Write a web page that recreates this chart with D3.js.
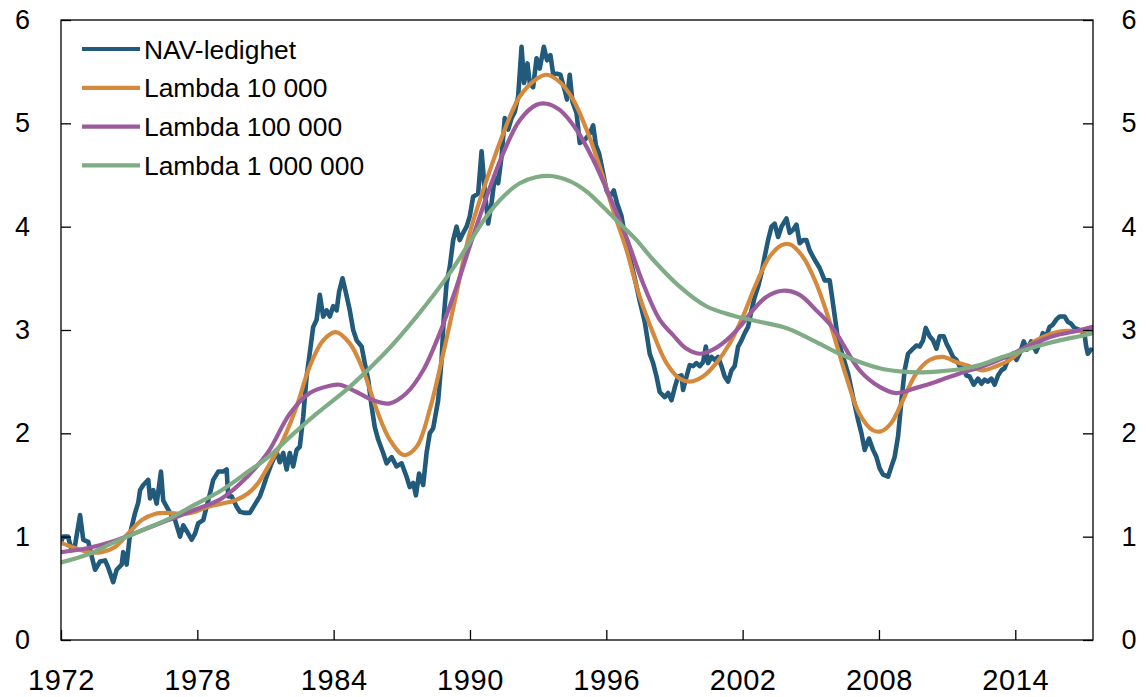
<!DOCTYPE html>
<html><head><meta charset="utf-8">
<script src="https://cdn.jsdelivr.net/npm/d3@7"></script>
<style>
html,body{margin:0;padding:0;background:#fff;}
svg{display:block;font-family:"Liberation Sans",Arial,Helvetica,sans-serif;}
</style></head>
<body>
<svg id="chart" width="1146" height="697"></svg>
<script>
// ---- data ----
const xTickYears = [1972, 1978, 1984, 1990, 1996, 2002, 2008, 2014];
const yTicks = [0, 1, 2, 3, 4, 5, 6];
const seriesNames = ["NAV-ledighet", "Lambda 10 000", "Lambda 100 000", "Lambda 1 000 000"];
const seriesColors = ["#215a7b", "#d4893c", "#9b5b9c", "#7fac84"];

const navYears = [1972.00,1972.10,1972.31,1972.47,1972.62,1972.84,1972.98,1973.20,1973.35,1973.50,1973.72,1973.94,1974.08,1974.30,1974.45,1974.67,1974.74,1974.89,1975.04,1975.26,1975.40,1975.48,1975.62,1975.84,1975.92,1976.06,1976.21,1976.40,1976.50,1976.80,1977.02,1977.24,1977.38,1977.60,1977.75,1977.90,1978.04,1978.26,1978.41,1978.56,1978.70,1978.92,1979.14,1979.29,1979.36,1979.51,1979.73,1979.88,1980.09,1980.31,1980.53,1980.75,1980.90,1981.05,1981.27,1981.49,1981.63,1981.78,1981.93,1982.07,1982.22,1982.37,1982.51,1982.66,1982.81,1982.95,1983.10,1983.25,1983.39,1983.54,1983.69,1983.83,1983.98,1984.13,1984.24,1984.39,1984.54,1984.71,1984.86,1985.01,1985.23,1985.37,1985.52,1985.67,1985.81,1985.96,1986.18,1986.33,1986.55,1986.77,1986.99,1987.21,1987.35,1987.50,1987.62,1987.76,1987.94,1988.09,1988.23,1988.38,1988.60,1988.75,1988.85,1988.97,1989.11,1989.26,1989.41,1989.55,1989.70,1989.85,1989.99,1990.14,1990.36,1990.51,1990.65,1990.80,1990.95,1991.09,1991.24,1991.39,1991.53,1991.68,1991.83,1991.97,1992.12,1992.27,1992.38,1992.53,1992.63,1992.78,1992.93,1993.07,1993.25,1993.39,1993.54,1993.66,1993.83,1993.98,1994.17,1994.27,1994.39,1994.51,1994.69,1994.83,1995.05,1995.27,1995.42,1995.54,1995.68,1995.83,1996.01,1996.15,1996.33,1996.47,1996.67,1996.81,1997.03,1997.25,1997.47,1997.69,1997.84,1997.91,1998.06,1998.21,1998.35,1998.57,1998.72,1998.87,1999.02,1999.16,1999.31,1999.38,1999.53,1999.67,1999.82,1999.97,2000.11,2000.26,2000.38,2000.48,2000.63,2000.77,2000.92,2001.07,2001.21,2001.36,2001.51,2001.65,2001.80,2001.95,2002.09,2002.24,2002.39,2002.53,2002.68,2002.83,2002.97,2003.12,2003.27,2003.41,2003.56,2003.71,2003.93,2004.07,2004.22,2004.37,2004.51,2004.66,2004.81,2004.95,2005.17,2005.39,2005.61,2005.83,2005.98,2006.20,2006.42,2006.64,2006.86,2007.08,2007.23,2007.37,2007.56,2007.74,2007.89,2008.03,2008.18,2008.40,2008.55,2008.69,2008.84,2008.99,2009.13,2009.28,2009.50,2009.65,2009.79,2009.94,2010.06,2010.23,2010.38,2010.53,2010.67,2010.85,2010.97,2011.11,2011.26,2011.41,2011.55,2011.70,2011.85,2011.99,2012.17,2012.36,2012.51,2012.65,2012.80,2012.95,2013.09,2013.24,2013.39,2013.53,2013.68,2013.90,2014.05,2014.19,2014.37,2014.51,2014.70,2014.92,2015.07,2015.21,2015.36,2015.51,2015.65,2015.80,2015.95,2016.17,2016.31,2016.46,2016.60,2016.82,2017.04,2017.12,2017.19,2017.33];
const navValues = [0.95,1.00,1.00,0.87,0.92,1.21,0.97,0.95,0.81,0.68,0.76,0.77,0.70,0.56,0.68,0.73,0.85,0.73,1.03,1.23,1.33,1.45,1.50,1.55,1.37,1.45,1.32,1.63,1.35,1.23,1.16,1.00,1.11,1.03,0.97,1.03,1.13,1.16,1.29,1.42,1.55,1.63,1.63,1.65,1.39,1.39,1.29,1.24,1.23,1.23,1.31,1.39,1.48,1.58,1.71,1.82,1.72,1.81,1.65,1.81,1.68,1.84,1.87,2.16,2.55,2.78,3.03,3.10,3.34,3.13,3.19,3.13,3.23,3.19,3.37,3.50,3.36,3.19,3.00,2.90,2.84,2.68,2.52,2.26,2.06,1.94,1.81,1.71,1.77,1.68,1.71,1.58,1.48,1.52,1.40,1.61,1.50,1.81,2.00,2.05,2.32,2.71,3.13,3.45,3.61,3.87,4.00,3.87,3.94,4.00,4.10,4.29,4.32,4.73,4.35,4.03,4.23,4.48,4.42,4.68,5.05,4.94,5.05,5.11,5.26,5.74,5.39,5.58,5.39,5.35,5.63,5.53,5.74,5.61,5.66,5.48,5.48,5.47,5.32,5.23,5.47,5.21,5.10,4.81,4.84,4.90,4.98,4.79,4.71,4.55,4.35,4.29,4.35,4.23,4.10,3.92,3.71,3.50,3.28,3.08,2.87,2.77,2.68,2.55,2.40,2.35,2.39,2.32,2.45,2.55,2.56,2.42,2.55,2.66,2.65,2.68,2.65,2.69,2.84,2.68,2.74,2.71,2.74,2.65,2.55,2.50,2.61,2.65,2.84,2.90,2.97,3.03,3.19,3.32,3.42,3.55,3.71,3.87,4.00,4.03,3.90,4.00,4.08,3.94,3.97,4.02,3.84,3.87,3.87,3.77,3.68,3.60,3.48,3.48,3.25,2.90,2.74,2.58,2.35,2.13,2.00,1.84,1.95,1.84,1.77,1.66,1.60,1.58,1.68,1.77,1.97,2.32,2.61,2.77,2.82,2.85,2.84,2.90,3.02,2.94,2.90,2.82,2.94,2.94,2.87,2.81,2.74,2.71,2.65,2.63,2.56,2.55,2.47,2.53,2.48,2.52,2.50,2.53,2.47,2.56,2.61,2.63,2.71,2.77,2.71,2.77,2.89,2.81,2.89,2.79,2.87,2.97,2.94,3.03,3.05,3.10,3.13,3.13,3.08,3.06,3.02,3.00,2.97,2.84,2.77,2.81];

const l1Years = [1972.00,1972.62,1973.20,1973.79,1974.38,1974.96,1975.55,1976.13,1976.72,1977.31,1977.89,1978.48,1979.07,1979.65,1980.24,1980.68,1981.12,1981.78,1982.37,1982.95,1983.54,1984.10,1984.71,1985.30,1985.89,1986.47,1987.09,1987.65,1988.23,1988.82,1989.41,1989.99,1990.73,1991.46,1992.19,1992.93,1993.37,1993.95,1994.54,1995.13,1995.71,1996.30,1996.88,1997.47,1998.06,1998.65,1999.23,1999.67,2000.25,2000.84,2001.43,2002.01,2002.60,2003.19,2003.70,2004.07,2004.65,2005.24,2005.83,2006.56,2007.14,2007.73,2008.10,2008.54,2009.05,2009.64,2010.23,2010.81,2011.40,2011.99,2012.57,2013.16,2013.75,2014.33,2014.92,2015.51,2016.09,2016.68,2017.42];
const l1Values = [0.94,0.89,0.85,0.85,0.90,1.03,1.16,1.22,1.23,1.22,1.24,1.29,1.32,1.35,1.42,1.52,1.68,1.94,2.26,2.65,2.90,2.98,2.87,2.61,2.23,1.94,1.79,1.87,2.23,2.77,3.36,3.94,4.45,4.90,5.26,5.43,5.47,5.40,5.23,4.94,4.58,4.16,3.78,3.32,2.97,2.68,2.53,2.50,2.55,2.68,2.87,3.13,3.45,3.71,3.82,3.83,3.71,3.45,3.08,2.55,2.19,2.03,2.02,2.10,2.32,2.58,2.71,2.74,2.69,2.65,2.61,2.65,2.71,2.81,2.90,2.96,2.99,2.99,3.00];

const l2Years = [1972.00,1973.20,1974.38,1975.55,1976.72,1977.89,1979.07,1980.24,1981.12,1982.07,1982.95,1983.83,1984.27,1985.01,1985.74,1986.47,1987.21,1987.94,1988.67,1989.41,1989.99,1990.73,1991.46,1992.19,1992.93,1993.37,1993.95,1994.68,1995.42,1996.15,1996.88,1997.62,1998.35,1998.94,1999.52,2000.11,2000.69,2001.28,2001.87,2002.45,2003.04,2003.77,2004.51,2005.24,2005.97,2007.15,2008.03,2008.76,2009.64,2010.52,2011.55,2012.57,2013.60,2014.63,2015.65,2016.68,2017.42];
const l2Values = [0.85,0.89,0.96,1.06,1.16,1.26,1.37,1.59,1.82,2.19,2.39,2.46,2.47,2.40,2.32,2.29,2.39,2.61,2.97,3.42,3.81,4.29,4.71,5.03,5.18,5.19,5.13,4.94,4.65,4.29,3.90,3.45,3.10,2.95,2.82,2.77,2.81,2.90,3.03,3.19,3.32,3.38,3.34,3.19,3.02,2.61,2.45,2.39,2.44,2.50,2.58,2.65,2.74,2.85,2.94,2.99,3.03];

const l3Years = [1972.00,1973.20,1974.38,1975.55,1976.72,1977.89,1979.07,1980.24,1981.12,1981.85,1983.25,1984.71,1986.18,1987.65,1989.11,1989.99,1990.73,1991.46,1992.19,1992.93,1993.59,1994.39,1995.13,1995.86,1996.59,1997.33,1998.06,1999.23,2000.40,2001.57,2002.75,2003.92,2005.09,2006.27,2007.15,2008.03,2008.91,2009.79,2010.67,2011.55,2012.43,2013.31,2014.19,2015.07,2015.95,2016.83,2017.42];
const l3Values = [0.75,0.83,0.95,1.06,1.17,1.31,1.45,1.63,1.77,1.92,2.19,2.45,2.76,3.13,3.55,3.85,4.10,4.29,4.42,4.48,4.49,4.44,4.34,4.19,4.03,3.87,3.68,3.42,3.23,3.14,3.08,3.02,2.90,2.77,2.69,2.63,2.60,2.59,2.60,2.62,2.66,2.73,2.79,2.85,2.90,2.94,2.97];

// ---- layout ----
const plot = {left: 61, right: 1093, top: 20, bottom: 640};
const svg = d3.select("#chart");
const FONT = "Liberation Sans, Arial, sans-serif";

const x = d3.scaleLinear().domain([1972, 2017.42]).range([plot.left, plot.right]);
const y = d3.scaleLinear().domain([0, 6]).range([plot.bottom, plot.top]);

const toPts = (xs, vs) => xs.map((d, i) => [d, vs[i]]);
const smooth = d3.curveCatmullRom.alpha(0.5);
const series = [
  {name: seriesNames[0], color: seriesColors[0], pts: toPts(navYears, navValues), curve: d3.curveLinear, w: 4.6},
  {name: seriesNames[1], color: seriesColors[1], pts: toPts(l1Years, l1Values), curve: smooth, w: 4.2},
  {name: seriesNames[2], color: seriesColors[2], pts: toPts(l2Years, l2Values), curve: smooth, w: 4.2},
  {name: seriesNames[3], color: seriesColors[3], pts: toPts(l3Years, l3Values), curve: smooth, w: 4.2}
];

svg.append("clipPath").attr("id", "clip").append("rect")
  .attr("x", plot.left).attr("y", plot.top)
  .attr("width", plot.right - plot.left).attr("height", plot.bottom - plot.top);

const g = svg.append("g").attr("clip-path", "url(#clip)");
series.forEach(s => {
  g.append("path")
    .datum(s.pts)
    .attr("fill", "none")
    .attr("stroke", s.color)
    .attr("stroke-width", s.w)
    .attr("stroke-linejoin", "round")
    .attr("stroke-linecap", "round")
    .attr("d", d3.line().x(d => x(d[0])).y(d => y(d[1])).curve(s.curve));
});

// ---- axes ----
const tickLen = 10;
const fmt = d => String(d);
const axisStyle = sel => {
  sel.select(".domain").remove();
  sel.selectAll(".tick line").attr("stroke", "#000").attr("stroke-width", 1.3);
  sel.selectAll("text").attr("fill", "#000").attr("font-family", FONT);
};

const xAxis = d3.axisBottom(x).tickValues(xTickYears).tickFormat(fmt).tickSizeInner(-tickLen).tickSizeOuter(0).tickPadding(29.5);
svg.append("g").attr("transform", `translate(0,${plot.bottom})`).call(xAxis).call(axisStyle)
  .selectAll("text").attr("font-size", 29).attr("letter-spacing", 0.6);

const yAxisL = d3.axisLeft(y).tickValues(yTicks).tickFormat(fmt).tickSizeInner(-tickLen).tickSizeOuter(0).tickPadding(31);
svg.append("g").attr("transform", `translate(${plot.left},0)`).call(yAxisL).call(axisStyle)
  .selectAll("text").attr("font-size", 27);

const yAxisR = d3.axisRight(y).tickValues(yTicks).tickFormat(fmt).tickSizeInner(-tickLen).tickSizeOuter(0).tickPadding(28.5);
svg.append("g").attr("transform", `translate(${plot.right},0)`).call(yAxisR).call(axisStyle)
  .selectAll("text").attr("font-size", 27);

// frame
svg.append("rect")
  .attr("x", plot.left).attr("y", plot.top)
  .attr("width", plot.right - plot.left).attr("height", plot.bottom - plot.top)
  .attr("fill", "none").attr("stroke", "#000").attr("stroke-width", 1.3);

// ---- legend ----
const leg = svg.append("g").attr("transform", "translate(82,49)");
series.forEach((s, i) => {
  const row = leg.append("g").attr("transform", `translate(0,${i * 38.8})`);
  row.append("line").attr("x1", 0).attr("x2", 58).attr("y1", 0).attr("y2", 0)
    .attr("stroke", s.color).attr("stroke-width", 4.2);
  row.append("text").attr("x", 62).attr("y", 0).attr("dy", "0.36em")
    .attr("font-size", 26.4).attr("fill", "#000").attr("font-family", FONT).text(s.name);
});
</script>
</body></html>
